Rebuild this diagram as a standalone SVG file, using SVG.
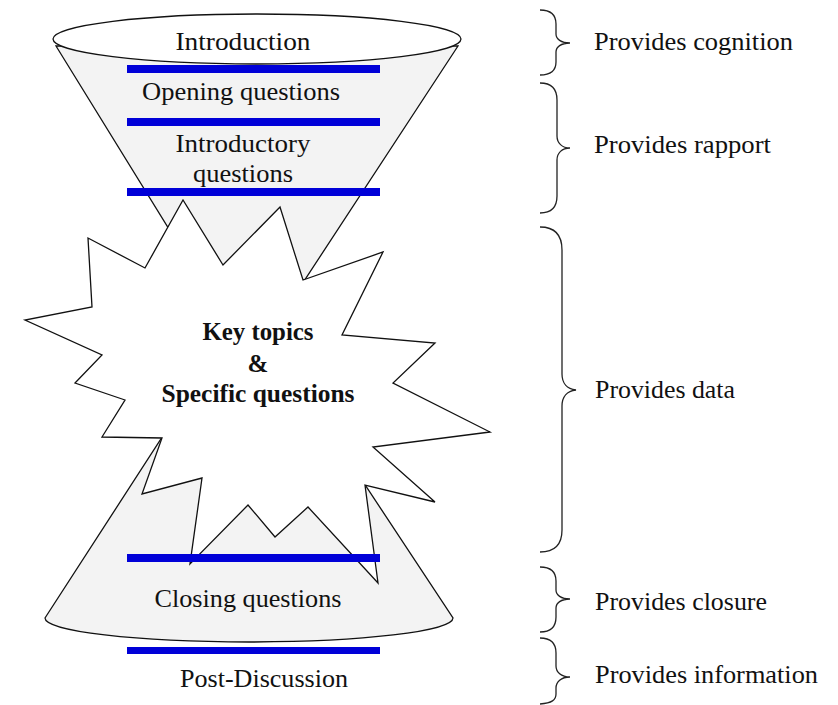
<svg xmlns="http://www.w3.org/2000/svg" width="838" height="705" viewBox="0 0 838 705">
<style>
.bg{fill:#ffffff}
.shape{stroke:#111;stroke-width:1.3;stroke-linejoin:miter}
.gray{fill:#f3f3f3}
.white{fill:#ffffff}
.blue{fill:#0000d8}
.t{font-family:"Liberation Serif","Times New Roman",serif;font-size:25px;fill:#111}
.c{text-anchor:middle}
.b{font-weight:bold}
.brace{fill:none;stroke:#222;stroke-width:1.3}
</style>
<rect class="bg" x="0" y="0" width="838" height="705"/>
<g id="funnel-top">
<polygon class="shape gray" points="56,46 458,46 251,362"/>
<ellipse class="shape white" cx="257" cy="39" rx="204" ry="25"/>
</g>
<g id="funnel-bottom">
<path class="shape gray" d="M45,618 L247,306 L453,618 A204,24 0 0 1 45,618 Z"/>
</g>
<g id="star">
<polygon class="shape white" points="490,432 373,447 435,502 365,485 378,583 308,507 275,537 248,505 190,564 202,478 142,494 162,438 102,437 125,400 75,383 102,355 25,320 92,307 88,238 145,268 183,200 223,265 280,207 303,280 383,252 342,335 435,343 393,383"/>
</g>
<g id="dividers">
<rect class="blue" x="127" y="65" width="253" height="8"/>
<rect class="blue" x="127" y="118" width="253" height="8"/>
<rect class="blue" x="127" y="188" width="253" height="8"/>
<rect class="blue" x="127" y="554" width="253" height="8"/>
<rect class="blue" x="127" y="647" width="253" height="7"/>
</g>
<g id="labels">
<text class="t c" x="243" y="50" textLength="135" lengthAdjust="spacingAndGlyphs">Introduction</text>
<text class="t c" x="241" y="100" textLength="198" lengthAdjust="spacingAndGlyphs">Opening questions</text>
<text class="t c" x="243" y="152" textLength="135" lengthAdjust="spacingAndGlyphs">Introductory</text>
<text class="t c" x="243" y="182" textLength="100" lengthAdjust="spacingAndGlyphs">questions</text>
<text class="t c b" x="258" y="340" textLength="111" lengthAdjust="spacingAndGlyphs">Key topics</text>
<text class="t c b" x="258" y="372">&amp;</text>
<text class="t c b" x="258" y="402" textLength="193" lengthAdjust="spacingAndGlyphs">Specific questions</text>
<text class="t c" x="248" y="607" textLength="187" lengthAdjust="spacingAndGlyphs">Closing questions</text>
<text class="t c" x="264" y="687" textLength="168" lengthAdjust="spacingAndGlyphs">Post-Discussion</text>
</g>
<g id="connectors">
<path class="brace" d="M540,10 C552,10 556,16 556,24 L556,34 C556,39 561,43 570,43 C561,43 556,47 556,52 L556,62 C556,70 552,75 540,75"/>
<path class="brace" d="M540,83 C552,83 557,90 557,100 L557,136 C557,143 562,148 570,148 C562,148 557,153 557,160 L557,196 C557,206 552,213 540,213"/>
<path class="brace" d="M540,227 C556,227 562,236 562,250 L562,374 C562,383 567,389 576,390 C567,391 562,397 562,406 L562,530 C562,544 556,552 540,552"/>
<path class="brace" d="M540,567 C552,567 556,573 556,581 L556,590 C556,595 561,599 570,599 C561,599 556,603 556,608 L556,617 C556,625 552,632 540,632"/>
<path class="brace" d="M540,638 C552,638 556,645 556,653 L556,666 C556,672 561,677 570,677 C561,677 556,682 556,688 L556,694 C556,700 552,703 540,704"/>
</g>
<g id="annotations">
<text class="t" x="594" y="50" textLength="199" lengthAdjust="spacingAndGlyphs">Provides cognition</text>
<text class="t" x="594" y="153" textLength="177" lengthAdjust="spacingAndGlyphs">Provides rapport</text>
<text class="t" x="595" y="398" textLength="140" lengthAdjust="spacingAndGlyphs">Provides data</text>
<text class="t" x="595" y="610" textLength="172" lengthAdjust="spacingAndGlyphs">Provides closure</text>
<text class="t" x="595" y="683" textLength="223" lengthAdjust="spacingAndGlyphs">Provides information</text>
</g>
</svg>
